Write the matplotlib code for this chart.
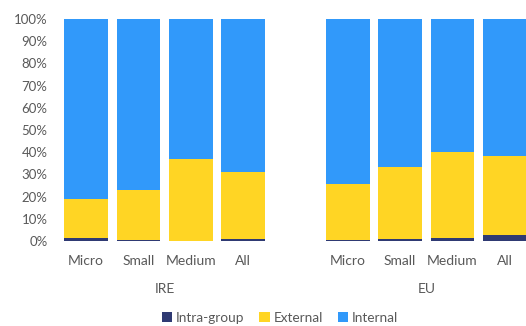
import matplotlib
matplotlib.use('Agg')
import matplotlib.pyplot as plt
import numpy as np

plt.rcParams['font.family'] = ['Lato', 'DejaVu Sans']

categories = ['Micro', 'Small', 'Medium', 'All']
groups = ['IRE', 'EU']

# shares in %, per group: Micro, Small, Medium, All
intra_ire = [1.5, 0.3, 0.2, 0.7]
external_ire = [17.5, 22.7, 36.8, 30.3]
intra_eu = [0.5, 1.0, 1.5, 2.8]
external_eu = [25.0, 32.5, 38.5, 35.7]

intra = np.array(intra_ire + intra_eu)
external = np.array(external_ire + external_eu)
internal = 100 - intra - external

col_intra = '#2F3A73'
col_ext = '#FFD524'
col_int = '#3199FA'
txt = '#595959'

fig = plt.figure(figsize=(5.26, 3.26), dpi=100)
ax = fig.add_axes([60/526, 85/326, 471/526, 222/326])

x = np.array([0, 1, 2, 3, 5, 6, 7, 8])
w = 0.84
ax.bar(x, intra, w, color=col_intra, label='Intra-group', linewidth=0)
ax.bar(x, external, w, bottom=intra, color=col_ext, label='External', linewidth=0)
ax.bar(x, internal, w, bottom=intra + external, color=col_int, label='Internal', linewidth=0)

ax.set_xlim(-0.5, 8.5)
ax.set_ylim(0, 100)
ax.set_yticks(range(0, 101, 10))
ax.set_yticklabels([f'{v}%' for v in range(0, 101, 10)], color=txt, fontsize=9.5)
ax.set_xticks(x)
ax.set_xticklabels(categories * 2, color=txt, fontsize=10)
ax.tick_params(length=0, axis='both')
ax.tick_params(axis='x', pad=10)
ax.tick_params(axis='y', pad=9)
for s in ax.spines.values():
    s.set_visible(False)

for i, g in enumerate(groups):
    cx = 1.5 + 5 * i
    ax.text(cx, -21.5, g, ha='center', va='center', color=txt, fontsize=10,
            transform=ax.transData, clip_on=False)

handles, labels = ax.get_legend_handles_labels()
fig.legend(handles, labels, loc='center', bbox_to_anchor=(280/526, 1 - 318/326),
           ncol=3, frameon=False, fontsize=9.8, handlelength=0.75, handleheight=0.75,
           handletextpad=0.3, columnspacing=1.1, labelcolor=txt)

plt.savefig('out.png', dpi=100)
